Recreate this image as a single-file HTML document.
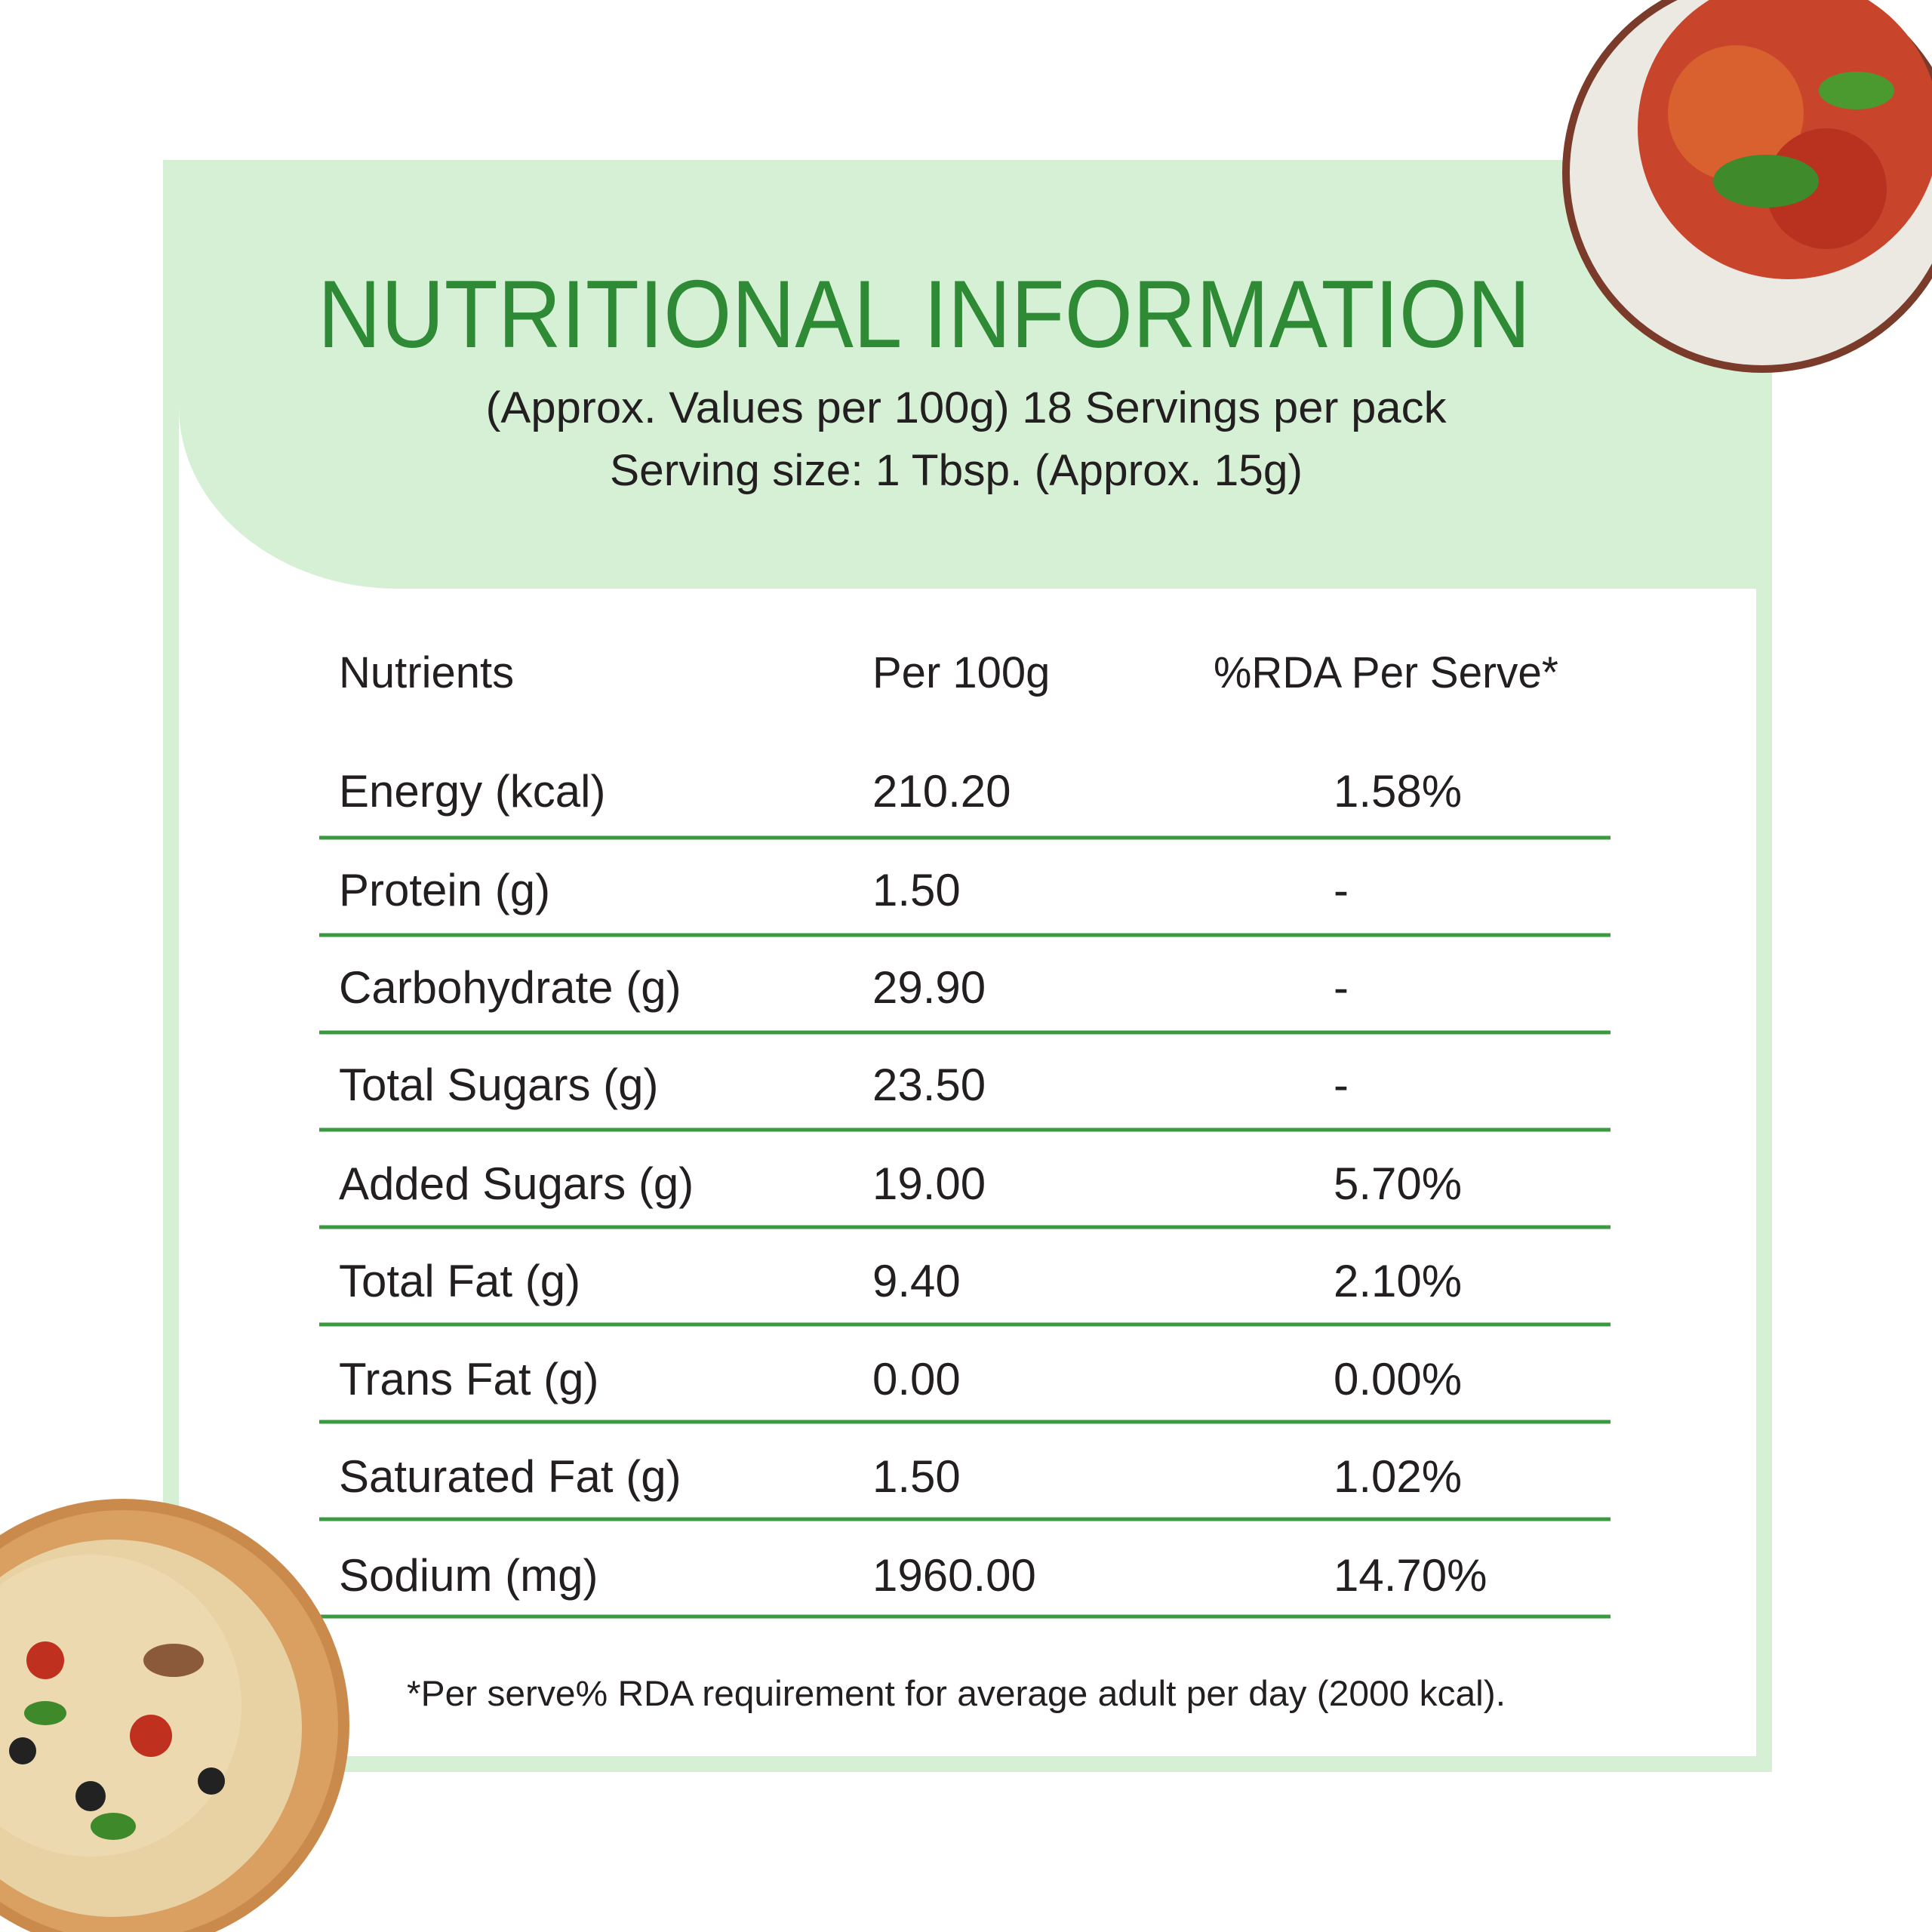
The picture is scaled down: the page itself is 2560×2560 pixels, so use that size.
<!DOCTYPE html>
<html><head><meta charset="utf-8"><style>
html,body{margin:0;padding:0;background:#fff;}
svg{display:block;}
text{font-family:"Liberation Sans",sans-serif;fill:#231f20;}
</style></head><body>
<svg width="2560" height="2560" viewBox="0 0 2560 2560" xmlns="http://www.w3.org/2000/svg">
<rect width="2560" height="2560" fill="#fff"/>
<path d="M216 212 H2103 A245 245 0 0 1 2348 457 V2348 H216 Z" fill="#d5f0d5"/>
<path d="M237 539 V2197 A130 130 0 0 0 367 2327 H2327 V780 H527 A290 241 0 0 1 237 539 Z" fill="#fff"/>
<text x="421" y="460" font-size="127" textLength="1607" lengthAdjust="spacingAndGlyphs" style="fill:#2f8a35">NUTRITIONAL INFORMATION</text>
<text x="1280" y="560" font-size="58" text-anchor="middle" textLength="1273" lengthAdjust="spacingAndGlyphs">(Approx. Values per 100g) 18 Servings per pack</text>
<text x="1267" y="643" font-size="58" text-anchor="middle" textLength="918" lengthAdjust="spacingAndGlyphs">Serving size: 1 Tbsp. (Approx. 15g)</text>
<g font-size="58">
<text x="449" y="911">Nutrients</text>
<text x="1156" y="911">Per 100g</text>
<text x="1608" y="911" textLength="457" lengthAdjust="spacingAndGlyphs">%RDA Per Serve*</text>
</g>
<g font-size="60">
<text x="449" y="1069">Energy (kcal)</text><text x="1156" y="1069">210.20</text><text x="1767" y="1069">1.58%</text>
<text x="449" y="1200">Protein (g)</text><text x="1156" y="1200">1.50</text><text x="1767" y="1200">-</text>
<text x="449" y="1329">Carbohydrate (g)</text><text x="1156" y="1329">29.90</text><text x="1767" y="1329">-</text>
<text x="449" y="1458">Total Sugars (g)</text><text x="1156" y="1458">23.50</text><text x="1767" y="1458">-</text>
<text x="449" y="1589">Added Sugars (g)</text><text x="1156" y="1589">19.00</text><text x="1767" y="1589">5.70%</text>
<text x="449" y="1718">Total Fat (g)</text><text x="1156" y="1718">9.40</text><text x="1767" y="1718">2.10%</text>
<text x="449" y="1848">Trans Fat (g)</text><text x="1156" y="1848">0.00</text><text x="1767" y="1848">0.00%</text>
<text x="449" y="1977">Saturated Fat (g)</text><text x="1156" y="1977">1.50</text><text x="1767" y="1977">1.02%</text>
<text x="449" y="2108">Sodium (mg)</text><text x="1156" y="2108">1960.00</text><text x="1767" y="2108">14.70%</text>
</g>
<g stroke="#3a9a3f" stroke-width="5">
<line x1="423" y1="1110" x2="2134" y2="1110"/>
<line x1="423" y1="1239" x2="2134" y2="1239"/>
<line x1="423" y1="1368" x2="2134" y2="1368"/>
<line x1="423" y1="1497" x2="2134" y2="1497"/>
<line x1="423" y1="1626" x2="2134" y2="1626"/>
<line x1="423" y1="1755" x2="2134" y2="1755"/>
<line x1="423" y1="1884" x2="2134" y2="1884"/>
<line x1="423" y1="2013" x2="2134" y2="2013"/>
<line x1="423" y1="2142" x2="2134" y2="2142"/>
</g>
<text x="539" y="2260" font-size="47" textLength="1456" lengthAdjust="spacingAndGlyphs">*Per serve% RDA requirement for average adult per day (2000 kcal).</text>
<circle cx="2335" cy="229" r="265" fill="#7a3b2a"/>
<circle cx="2335" cy="229" r="255" fill="#ece8e2"/>
<circle cx="2370" cy="170" r="200" fill="#c8452c"/>
<circle cx="2300" cy="150" r="90" fill="#d9602f"/>
<circle cx="2420" cy="250" r="80" fill="#b8321f"/>
<ellipse cx="2340" cy="240" rx="70" ry="35" fill="#3f8a2a"/>
<ellipse cx="2460" cy="120" rx="50" ry="25" fill="#4a9a30"/>
<circle cx="163" cy="2286" r="300" fill="#c98a4b"/>
<circle cx="163" cy="2286" r="285" fill="#d9a062"/>
<circle cx="150" cy="2290" r="250" fill="#e8d2a4"/>
<circle cx="120" cy="2260" r="200" fill="#ecd9b0"/>
<circle cx="60" cy="2200" r="25" fill="#c0301e"/>
<circle cx="200" cy="2300" r="28" fill="#c0301e"/>
<circle cx="120" cy="2380" r="20" fill="#222"/>
<circle cx="280" cy="2360" r="18" fill="#222"/>
<circle cx="30" cy="2320" r="18" fill="#222"/>
<ellipse cx="150" cy="2420" rx="30" ry="18" fill="#3e8a2a"/>
<ellipse cx="60" cy="2270" rx="28" ry="16" fill="#3e8a2a"/>
<ellipse cx="230" cy="2200" rx="40" ry="22" fill="#8a5a3a"/>
</svg>
</body></html>
